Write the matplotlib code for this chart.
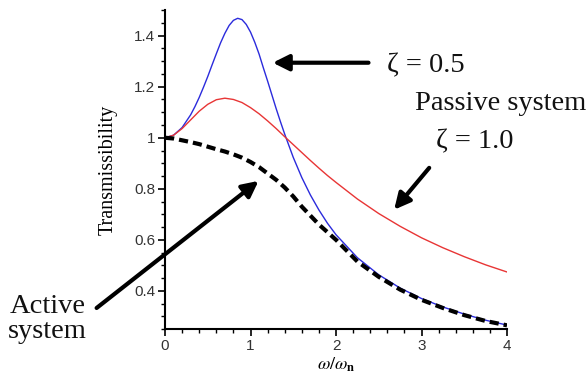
import matplotlib
matplotlib.use("Agg")
import matplotlib.pyplot as plt
from matplotlib.ticker import MultipleLocator

# frequency ratio and transmissibility
ratio_05 = [0.0, 0.1, 0.2, 0.3, 0.35, 0.4, 0.45, 0.5, 0.55, 0.6, 0.65, 0.7,
            0.75, 0.8, 0.85, 0.9, 0.95, 1.0, 1.05, 1.1, 1.15, 1.2, 1.25, 1.3,
            1.35, 1.4, 1.5, 1.6, 1.7, 1.8, 1.9, 2.0, 2.25, 2.5, 2.75, 3.0,
            3.25, 3.5, 3.75, 4.0]
zeta_05 = [1.0, 1.01, 1.04, 1.09, 1.122, 1.158, 1.198, 1.24, 1.285, 1.329,
           1.372, 1.409, 1.44, 1.46, 1.468, 1.463, 1.444, 1.414, 1.374, 1.328,
           1.274, 1.222, 1.168, 1.114, 1.063, 1.014, 0.923, 0.844, 0.776,
           0.717, 0.665, 0.62, 0.53, 0.463, 0.411, 0.37, 0.337, 0.309, 0.285,
           0.266]

ratio = [0.0, 0.1, 0.2, 0.3, 0.4, 0.5, 0.6, 0.7, 0.8, 0.9, 1.0, 1.1, 1.2,
         1.3, 1.4, 1.5, 1.6, 1.7, 1.8, 1.9, 2.0, 2.25, 2.5, 2.75, 3.0, 3.25,
         3.5, 3.75, 4.0]
zeta_10 = [1.0, 1.01, 1.036, 1.07, 1.104, 1.131, 1.149, 1.155, 1.15, 1.138,
           1.118, 1.094, 1.066, 1.036, 1.004, 0.973, 0.942, 0.911, 0.881,
           0.852, 0.825, 0.76, 0.703, 0.653, 0.608, 0.569, 0.534, 0.502, 0.474]
active = [1.0, 0.997, 0.99, 0.983, 0.975, 0.965, 0.955, 0.946, 0.935, 0.922,
          0.905, 0.885, 0.86, 0.835, 0.805, 0.77, 0.73, 0.695, 0.66, 0.63,
          0.60, 0.515, 0.455, 0.405, 0.365, 0.333, 0.305, 0.282, 0.265]

plt.rcParams["mathtext.fontset"] = "stix"

fig = plt.figure(figsize=(5.86, 3.9), dpi=100)
ax = fig.add_axes([0.2816, 0.156, 0.5836, 0.818])

ax.plot(ratio_05, zeta_05, color="#2b2bdc", lw=1.0)
ax.plot(ratio, zeta_10, color="#e83535", lw=1.0)
ax.plot(ratio, active, color="black", lw=3.0, dashes=(2.2, 1.2))

ax.set_xlim(0, 4)
ax.set_ylim(0.25, 1.5)
ax.xaxis.set_major_locator(MultipleLocator(1))
ax.xaxis.set_minor_locator(MultipleLocator(0.2))
ax.set_yticks([0.4, 0.6, 0.8, 1.0, 1.2, 1.4])
ax.set_yticklabels(["0.4", "0.6", "0.8", "1", "1.2", "1.4"])
ax.yaxis.set_minor_locator(MultipleLocator(0.05))

for s in ["top", "right"]:
    ax.spines[s].set_visible(False)
for s in ["left", "bottom"]:
    ax.spines[s].set_linewidth(1.5)

ax.tick_params(which="major", direction="out", length=5, width=1.2,
               labelsize=11, labelcolor="#333333", pad=2)
ax.tick_params(which="minor", direction="out", length=3, width=1.0)
for lab in ax.get_xticklabels() + ax.get_yticklabels():
    lab.set_fontfamily("Liberation Sans")

ax.set_ylabel("Transmissibility", family="Liberation Serif", fontsize=14.5,
              labelpad=12)
ax.set_xlabel(r"$\omega/\omega_\mathbf{n}$", fontsize=13, labelpad=2)

serif = dict(family="Liberation Serif", fontsize=20.5, color="#111111")
arrow = dict(arrowstyle="-|>", lw=3, color="black", mutation_scale=24,
             shrinkA=0, shrinkB=0)

ax.annotate("", xy=(1.26, 1.294), xytext=(2.38, 1.294), arrowprops=arrow)
ax.text(2.6, 1.28, "\u03b6 = 0.5", ha="left", va="center", **serif)

ax.text(3.92, 1.133, "Passive system", ha="center", va="center", **serif)
ax.text(3.62, 0.985, "\u03b6 = 1.0", ha="center", va="center", **serif)
ax.annotate("", xy=(2.68, 0.718), xytext=(3.09, 0.882), arrowprops=arrow)

ax.annotate("", xy=(1.094, 0.831), xytext=(-0.8, 0.333), arrowprops=arrow,
            annotation_clip=False)
ax.text(-1.376, 0.29, "Active\nsystem", ha="center", va="center",
        linespacing=1.0, **serif)

fig.savefig("out.png", dpi=100)
